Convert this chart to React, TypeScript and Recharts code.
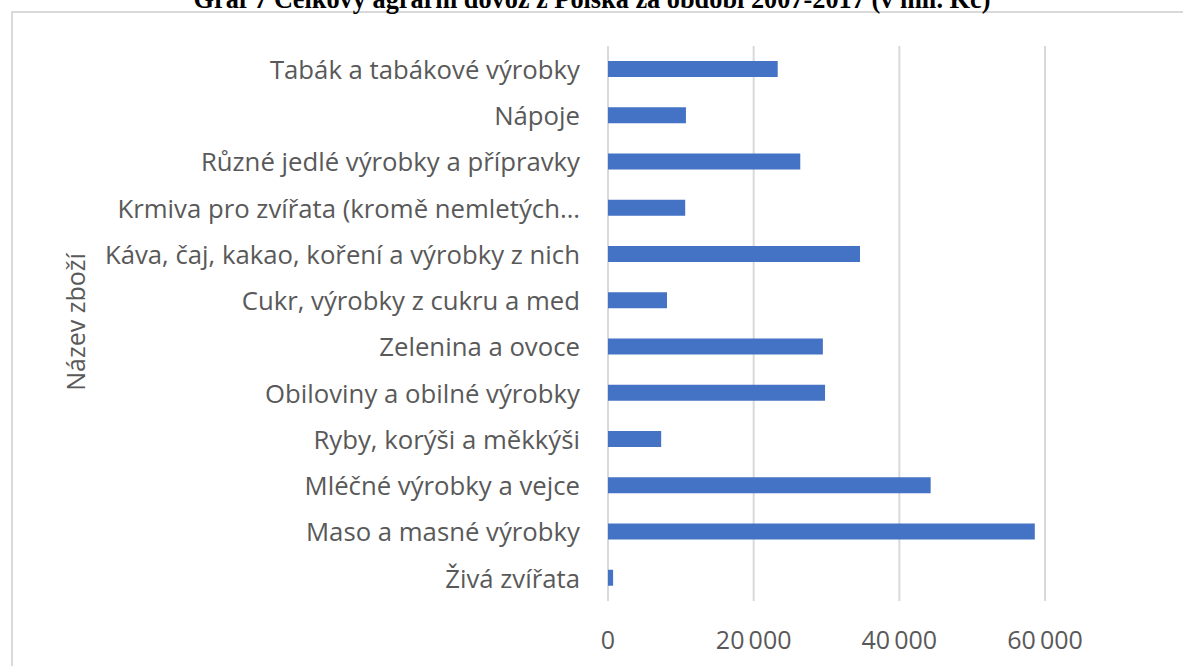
import React from 'react';
import { BarChart, Bar, XAxis, YAxis, CartesianGrid } from 'recharts';

const categories: string[] = [
  'Tabák a tabákové výrobky',
  'Nápoje',
  'Různé jedlé výrobky a přípravky',
  'Krmiva pro zvířata (kromě nemletých…',
  'Káva, čaj, kakao, koření a výrobky z nich',
  'Cukr, výrobky z cukru a med',
  'Zelenina a ovoce',
  'Obiloviny a obilné výrobky',
  'Ryby, korýši a měkkýši',
  'Mléčné výrobky a vejce',
  'Maso a masné výrobky',
  'Živá zvířata',
];

const values: number[] = [23300, 10700, 26400, 10600, 34600, 8100, 29500, 29800, 7300, 44300, 58600, 700];

const xTicks: number[] = [0, 20000, 40000, 60000];

const title = 'Graf 7 Celkový agrární dovoz z Polska za období 2007-2017 (v mil. Kč)';
const yAxisTitle = 'Název zboží';

const data = categories.map((name, i) => ({ name, value: values[i] }));

const FONT = '"Open Sans", "Noto Sans", sans-serif';
const TEXT_COLOR = '#595959';
const SX = 1.03;

const fmt = (v: number) => {
  const s = Math.round(v).toString();
  return s.replace(/\B(?=(\d{3})+(?!\d))/g, '\u2009');
};

const YTick = (props: any) => {
  const { x, y, payload } = props;
  return (
    <text
      x={x}
      y={y}
      textAnchor="end"
      dominantBaseline="central"
      fill={TEXT_COLOR}
      fontSize={25}
      fontFamily={FONT}
      transform={`translate(${x},${y}) scale(${SX},1) translate(${-x},${-y})`}
    >
      {payload.value}
    </text>
  );
};

const XTick = (props: any) => {
  const { x, y, payload } = props;
  return (
    <text
      x={x}
      y={y}
      textAnchor="middle"
      dominantBaseline="central"
      fill={TEXT_COLOR}
      fontSize={25}
      fontFamily={FONT}
    >
      {fmt(payload.value)}
    </text>
  );
};

export default function App() {
  return (
    <div
      style={{
        position: 'absolute',
        left: 0,
        top: 0,
        width: 1183,
        height: 666,
        background: '#ffffff',
        overflow: 'hidden',
      }}
    >
      <div
        style={{
          position: 'absolute',
          left: 11,
          top: 11,
          width: 1300,
          height: 800,
          border: '2px solid #d9d9d9',
          boxSizing: 'border-box',
        }}
      />
      <div style={{ position: 'absolute', left: 0, top: 0 }}>
        <BarChart
          width={1183}
          height={666}
          data={data}
          layout="vertical"
          margin={{ top: 46, right: 138, bottom: 25, left: 0 }}
        >
          <CartesianGrid horizontal={false} stroke="#d9d9d9" strokeWidth={2} />
          <XAxis
            type="number"
            domain={[0, 60000]}
            ticks={xTicks}
            axisLine={false}
            tickLine={false}
            tickSize={0}
            tickMargin={38}
            height={40}
            tick={<XTick />}
            interval={0}
          />
          <YAxis
            type="category"
            dataKey="name"
            width={608}
            axisLine={false}
            tickLine={false}
            tickSize={0}
            tickMargin={28}
            tick={<YTick />}
            interval={0}
          />
          <Bar dataKey="value" fill="#4472c4" barSize={16} isAnimationActive={false} />
        </BarChart>
      </div>
      <svg
        width={1183}
        height={666}
        style={{ position: 'absolute', left: 0, top: 0, pointerEvents: 'none' }}
      >
        <text
          x={592}
          y={8}
          textAnchor="middle"
          fontFamily='"Liberation Serif", "Times New Roman", serif'
          fontWeight="bold"
          fontSize={26.3}
          fill="#000000"
        >
          {title}
        </text>
        <text
          x={75}
          y={322}
          textAnchor="middle"
          dominantBaseline="central"
          fontFamily={FONT}
          fontSize={25}
          fill={TEXT_COLOR}
          transform="rotate(-90 75 322)"
        >
          {yAxisTitle}
        </text>
      </svg>
    </div>
  );
}
